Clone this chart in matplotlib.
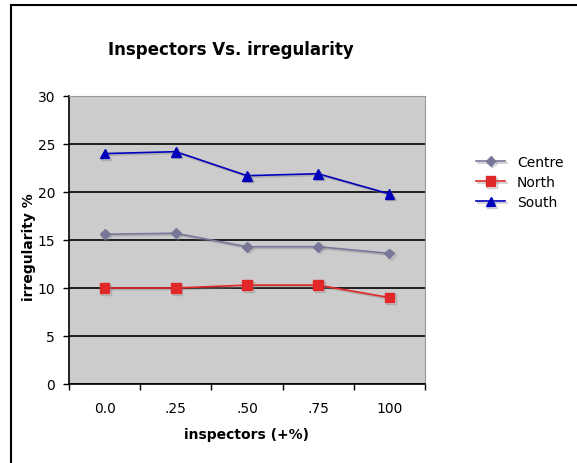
import matplotlib
matplotlib.use("Agg")
import matplotlib.pyplot as plt
import matplotlib.patheffects as pe
from matplotlib.lines import Line2D

categories = ["0.0", ".25", ".50", ".75", "100"]
centre = [15.6, 15.7, 14.3, 14.3, 13.6]
north = [10.0, 10.0, 10.3, 10.3, 9.0]
south = [24.0, 24.2, 21.7, 21.9, 19.8]

fig = plt.figure(figsize=(5.77, 4.64), dpi=100)
fig.patch.set_facecolor("white")
ax = fig.add_axes([69/577, 1-385/464, 356/577, 288/464])
ax.set_facecolor("#cccccc")

x = list(range(len(categories)))
shadow = [pe.SimpleLineShadow(offset=(1.2, -1.2), shadow_color="gray", alpha=0.4), pe.Normal()]
ax.plot(x, centre, color="#777799", marker="D", markersize=5, lw=1.2, label="Centre", path_effects=shadow)
ax.plot(x, north, color="#e02828", marker="s", markersize=7, lw=1.2, label="North", path_effects=shadow)
ax.plot(x, south, color="#0000bb", marker="^", markersize=7, lw=1.2, label="South", path_effects=shadow)

ax.set_xlim(-0.5, len(categories)-0.5)
ax.set_ylim(0, 30)
ax.set_yticks([0, 5, 10, 15, 20, 25, 30])
ax.yaxis.grid(True, color="black", lw=1.2)
ax.set_axisbelow(True)
ax.set_xticks(x)
ax.set_xticklabels(categories, fontsize=10)
ax.set_xticks([i - 0.5 for i in range(len(categories)+1)], minor=True)
ax.tick_params(axis="x", which="major", length=0, pad=12)
ax.tick_params(axis="x", which="minor", length=4, width=1, direction="out")
ax.tick_params(axis="y", length=4, width=1, labelsize=10, pad=6)
for s in ["top", "right"]:
    ax.spines[s].set_color("#999999")
for s in ["left", "bottom"]:
    ax.spines[s].set_color("black")
    ax.spines[s].set_linewidth(1.2)

ax.set_xlabel("inspectors (+%)", fontsize=10, fontweight="bold", labelpad=9)
ax.set_ylabel("irregularity %", fontsize=10, fontweight="bold")
ax.yaxis.set_label_coords(-0.092, 0.48)
fig.text(231/577, 1-50/464, "Inspectors Vs. irregularity", fontsize=12, fontweight="bold",
         ha="center", va="center")

leg = fig.legend(loc="center left", bbox_to_anchor=(476/577, 1-183/464), frameon=False, fontsize=10,
                 handlelength=2.1, handletextpad=0.85, labelspacing=0.45, borderaxespad=0, borderpad=0)

fig.add_artist(Line2D([11/577, 11/577], [0, 1-6/464], color="black", lw=1.5, transform=fig.transFigure))
fig.add_artist(Line2D([11/577, 1], [1-6/464, 1-6/464], color="black", lw=1.5, transform=fig.transFigure))

fig.savefig("out.png", dpi=100)
